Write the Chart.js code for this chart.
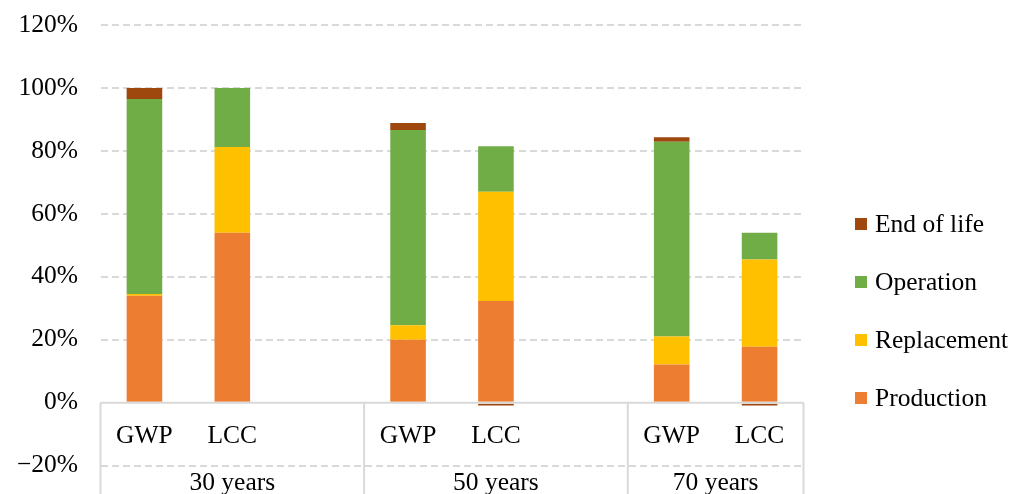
<!DOCTYPE html>
<html>
<head>
<meta charset="utf-8">
<script src="https://cdn.jsdelivr.net/npm/chart.js@4.4.1/dist/chart.umd.min.js"></script>
<style>
  html, body { margin: 0; padding: 0; background: #fff; }
  canvas { display: block; }
</style>
</head>
<body>
<canvas id="chart" width="1020" height="494"></canvas>
<script>
// Inner category level (blank slots keep a gap between the period groups)
const categories = ['GWP', 'LCC', '', 'GWP', 'LCC', '', 'GWP', 'LCC'];
// Outer category level and the index where each group begins
const groups = ['30 years', '50 years', '70 years'];
const groupStarts = [0, 3, 6];

// Share of the total (%) per life-cycle stage
const production  = [34.0, 54.0, null, 20.0, 32.3, null, 12.1, 17.8];
const replacement = [0.5, 27.2, null, 4.6, 34.7, null, 8.9, 27.7];
const operation   = [62.0, 18.8, null, 62.0, 14.5, null, 61.9, 8.5];
const endOfLife   = [3.5, 0.0, null, 2.3, -0.9, null, 1.4, -0.9];

// Value axis
const yMin = -20, yMax = 120, yStep = 20;

const FONT_FAMILY = '"Liberation Serif", "Times New Roman", serif';
const FONT_SIZE = 25.5;
const FONT = FONT_SIZE + 'px ' + FONT_FAMILY;
const AXIS_GREY = '#d9d9d9';

// Zero line, group separators and the two-level category labels
const categoryAxis = {
  id: 'categoryAxis',
  afterDatasetsDraw(chart) {
    const { ctx, chartArea, scales: { x, y } } = chart;
    const zeroY = y.getPixelForValue(0);
    const half = (x.getPixelForValue(1) - x.getPixelForValue(0)) / 2;
    ctx.save();
    ctx.strokeStyle = AXIS_GREY;
    ctx.lineWidth = 2;
    ctx.beginPath();
    ctx.moveTo(chartArea.left, zeroY);
    ctx.lineTo(chartArea.right, zeroY);
    ctx.stroke();

    const bounds = groupStarts.map(i => x.getPixelForValue(i) - half)
      .concat([x.getPixelForValue(categories.length - 1) + half]);
    bounds.forEach(b => {
      ctx.beginPath();
      ctx.moveTo(b, zeroY);
      ctx.lineTo(b, chart.height);
      ctx.stroke();
    });

    ctx.fillStyle = '#000';
    ctx.font = FONT;
    ctx.textAlign = 'center';
    ctx.textBaseline = 'alphabetic';
    categories.forEach((c, i) => {
      if (c) ctx.fillText(c, x.getPixelForValue(i), zeroY + 40);
    });
    groups.forEach((g, k) => {
      ctx.fillText(g, (bounds[k] + bounds[k + 1]) / 2, zeroY + 87.5);
    });
    ctx.restore();
  }
};

// Legend column on the right, top item = last stacked series
const sideLegend = {
  id: 'sideLegend',
  afterDraw(chart) {
    const { ctx, chartArea } = chart;
    const items = chart.data.datasets.slice().reverse();
    const boxX = chartArea.right + 51.5;
    const firstBase = 231.5;
    const step = 58;
    ctx.save();
    ctx.font = FONT;
    ctx.textAlign = 'left';
    ctx.textBaseline = 'alphabetic';
    items.forEach((ds, i) => {
      const base = firstBase + i * step;
      ctx.fillStyle = ds.backgroundColor;
      ctx.fillRect(boxX, base - 13.5, 12, 12);
      ctx.fillStyle = '#000';
      ctx.fillText(ds.label, boxX + 20, base);
    });
    ctx.restore();
  }
};

new Chart(document.getElementById('chart'), {
  type: 'bar',
  data: {
    labels: categories,
    datasets: [
      { label: 'Production',  data: production,  backgroundColor: '#ED7D31' },
      { label: 'Replacement', data: replacement, backgroundColor: '#FFC000' },
      { label: 'Operation',   data: operation,   backgroundColor: '#70AD47' },
      { label: 'End of life', data: endOfLife,   backgroundColor: '#9E480E' }
    ]
  },
  options: {
    responsive: false,
    animation: false,
    devicePixelRatio: 1,
    datasets: {
      bar: { barPercentage: 0.405, categoryPercentage: 1, borderWidth: 0 }
    },
    layout: { padding: { top: 25, bottom: 28.4, left: 0, right: 216.5 } },
    plugins: {
      legend: { display: false },
      tooltip: { enabled: false }
    },
    scales: {
      x: {
        stacked: true,
        display: false
      },
      y: {
        stacked: true,
        min: yMin,
        max: yMax,
        afterFit(scale) { scale.width = 100.5; },
        border: { display: false, dash: [7, 4] },
        grid: {
          drawTicks: true,
          tickLength: 22.5,
          tickColor: 'rgba(0,0,0,0)',
          lineWidth: 2,
          color: c => (c.tick && c.tick.value === 0) ? 'rgba(0,0,0,0)' : AXIS_GREY
        },
        ticks: {
          stepSize: yStep,
          padding: 0,
          color: '#000',
          font: { family: FONT_FAMILY, size: FONT_SIZE },
          callback: v => (v < 0 ? '\u2212' + Math.abs(v) : v) + '%'
        }
      }
    }
  },
  plugins: [categoryAxis, sideLegend]
});
</script>
</body>
</html>
